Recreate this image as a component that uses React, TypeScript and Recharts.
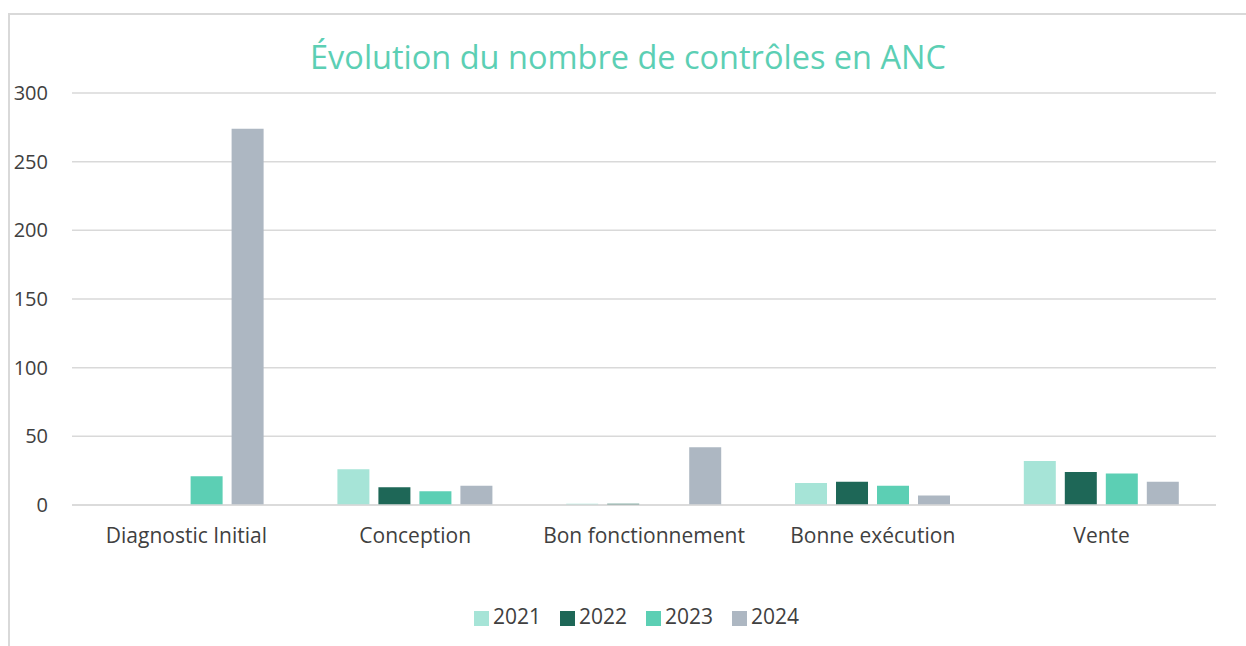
import { BarChart, Bar, XAxis, YAxis, CartesianGrid, Legend } from 'recharts';

const categories = ['Diagnostic Initial', 'Conception', 'Bon fonctionnement', 'Bonne exécution', 'Vente'];
const values2021 = [0, 26, 1, 16, 32];
const values2022 = [0, 13, 1, 17, 24];
const values2023 = [21, 10, 0, 14, 23];
const values2024 = [274, 14, 42, 7, 17];
const yTicks = [0, 50, 100, 150, 200, 250, 300];

const series = [
  { key: '2021', color: '#a6e4d7' },
  { key: '2022', color: '#1e6757' },
  { key: '2023', color: '#5ccfb4' },
  { key: '2024', color: '#adb7c2' },
];

const data = categories.map((name, i) => ({
  name,
  '2021': values2021[i],
  '2022': values2022[i],
  '2023': values2023[i],
  '2024': values2024[i],
}));

const FONT = '"Open Sans", sans-serif';

export default function App() {
  return (
    <div
      style={{
        position: 'absolute',
        left: 8,
        top: 13,
        width: 1238,
        height: 633,
        borderLeft: '2px solid #d9d9d9',
        borderTop: '2px solid #d9d9d9',
        background: '#fff',
        fontFamily: FONT,
      }}
    >
      <div
        style={{
          position: 'absolute',
          left: 0,
          width: 1236,
          top: 22,
          textAlign: 'center',
          color: '#5ccfb4',
          fontSize: 32.5,
          lineHeight: '40px',
        }}
      >
        Évolution du nombre de contrôles en ANC
      </div>
      <BarChart
        width={1236}
        height={631}
        data={data}
        margin={{ top: 78, right: 30, left: 0, bottom: 53 }}
        barCategoryGap="16%"
        barGap={9}
      >
        <CartesianGrid vertical={false} stroke="#d9d9d9" strokeWidth={1.5} />
        <XAxis
          dataKey="name"
          axisLine={{ stroke: '#d9d9d9', strokeWidth: 1.5 }}
          tickLine={false}
          height={60}
          tickMargin={17}
          tick={{ fill: '#404040', fontSize: 21, fontFamily: FONT }}
          interval={0}
        />
        <YAxis
          width={62}
          domain={[0, 300]}
          ticks={yTicks}
          axisLine={false}
          tickLine={false}
          tickMargin={18}
          tick={{ fill: '#404040', fontSize: 20, fontFamily: FONT }}
        />
        <Legend
          verticalAlign="bottom"
          iconType="square"
          iconSize={15}
          wrapperStyle={{ bottom: 16, left: 33, fontSize: 21, fontFamily: FONT, color: '#404040' }}
          formatter={(value) => <span style={{ color: '#404040', marginRight: 9 }}>{value}</span>}
        />
        {series.map((s) => (
          <Bar key={s.key} dataKey={s.key} fill={s.color} isAnimationActive={false} />
        ))}
      </BarChart>
    </div>
  );
}
